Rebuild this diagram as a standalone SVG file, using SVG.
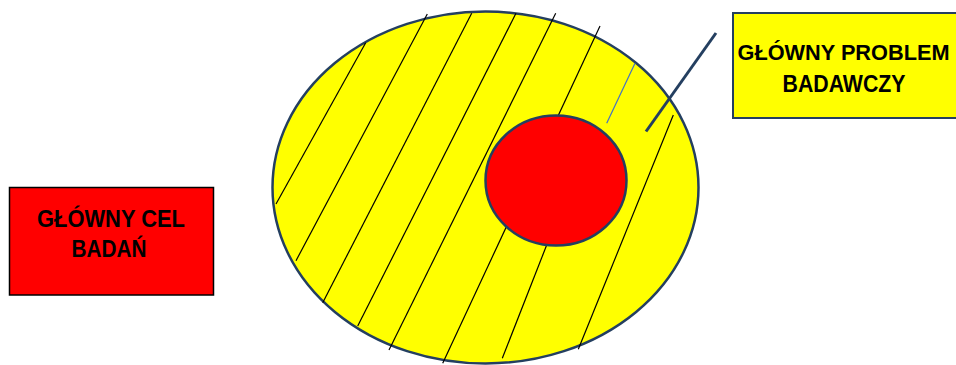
<svg xmlns="http://www.w3.org/2000/svg" width="956" height="365" viewBox="0 0 956 365">
<style>
.hatch{stroke:#000;stroke-width:1.2;fill:none}
.lbl{font-family:"Liberation Sans",Arial,sans-serif;font-weight:bold;font-size:24px;fill:#000;text-anchor:middle}
</style>
<rect width="956" height="365" fill="#fff"/>
<g id="problem-area">
<ellipse cx="485.5" cy="187.5" rx="213" ry="176" fill="#FFFF00" stroke="#243F60" stroke-width="2.5"/>
<line class="hatch" x1="365.7" y1="42.7" x2="276" y2="204"/>
<line class="hatch" x1="427.3" y1="14" x2="296" y2="260.7"/>
<line class="hatch" x1="471.7" y1="13.3" x2="322.7" y2="302.7"/>
<line class="hatch" x1="516" y1="13.3" x2="357.7" y2="326"/>
<line class="hatch" x1="555.7" y1="13.3" x2="389" y2="350"/>
<line class="hatch" x1="600" y1="26" x2="442.7" y2="363.3"/>
<line class="hatch" x1="546.7" y1="245" x2="502.3" y2="358.3"/>
<line class="hatch" x1="673.3" y1="115" x2="578.3" y2="349.3"/>
<line x1="635" y1="63.3" x2="606.7" y2="123.3" stroke="#4472C4" stroke-width="1.2"/>
</g>
<g id="core">
<ellipse cx="556" cy="180.5" rx="70.5" ry="65" fill="#FF0000" stroke="#243F60" stroke-width="2.5"/>
</g>
<g id="connectors">
<line x1="716" y1="33" x2="646" y2="131.5" stroke="#243F60" stroke-width="3"/>
</g>
<g id="main-problem">
<rect x="733" y="13" width="232" height="105" fill="#FFFF00" stroke="#243F60" stroke-width="2"/>
<text class="lbl" x="843.5" y="60" style="font-size:22px" textLength="212" lengthAdjust="spacingAndGlyphs">GŁÓWNY PROBLEM</text>
<text class="lbl" x="844" y="92" textLength="123" lengthAdjust="spacingAndGlyphs">BADAWCZY</text>
</g>
<g id="main-goal">
<rect x="9.5" y="187.5" width="204" height="107.5" fill="#FF0000" stroke="#000" stroke-width="1.5"/>
<text class="lbl" x="111" y="227" textLength="148" lengthAdjust="spacingAndGlyphs">GŁÓWNY CEL</text>
<text class="lbl" x="109" y="257" textLength="75" lengthAdjust="spacingAndGlyphs">BADAŃ</text>
</g>
</svg>
